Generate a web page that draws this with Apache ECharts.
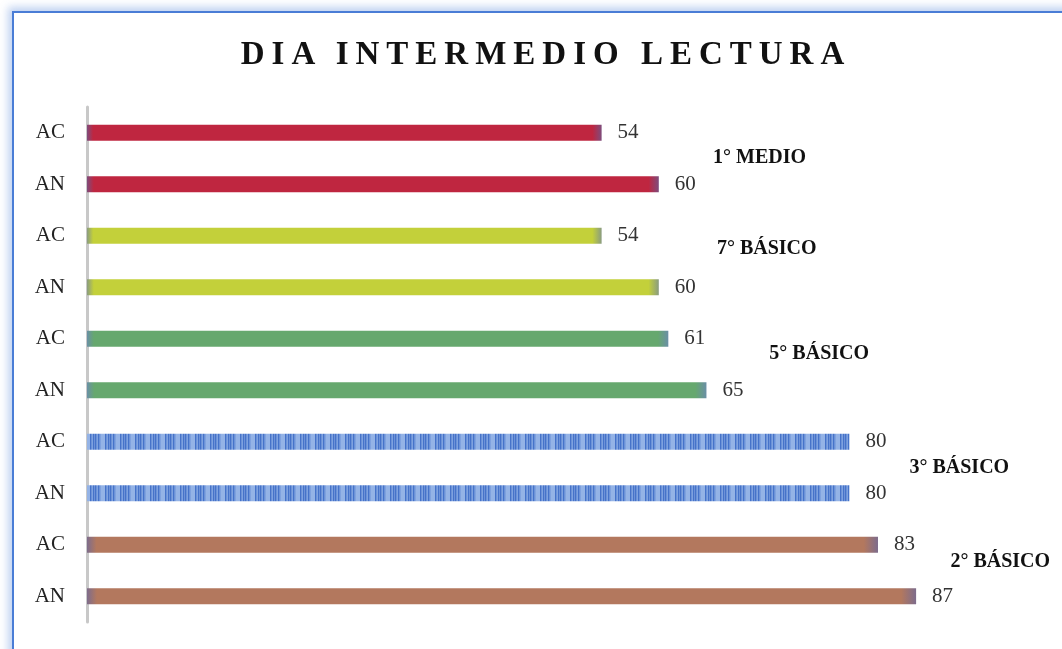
<!DOCTYPE html>
<html>
<head>
<meta charset="utf-8">
<script src="https://cdn.jsdelivr.net/npm/echarts@6/dist/echarts.min.js"></script>
<style>
  html, body { margin: 0; padding: 0; background: #fff; }
  #wrap { position: relative; width: 1062px; height: 649px; overflow: hidden; }
  #frame {
    position: absolute; left: 12px; top: 11px; width: 1100px; height: 700px;
    border-left: 2px solid #4a7dd6; border-top: 2px solid #4a7dd6;
    box-shadow: -4px -4px 8px rgba(74, 125, 214, 0.35);
  }
  #title {
    position: absolute; left: 4px; width: 1084px; top: 35px; text-align: center;
    font-family: 'Liberation Serif', serif; font-weight: bold; font-size: 33px;
    letter-spacing: 7px; color: #111;
  }
  #chart { position: absolute; left: 0; top: 0; width: 1062px; height: 649px; }
</style>
</head>
<body>
<div id="wrap">
  <div id="frame"></div>
  <div id="chart"></div>
  <div id="title">DIA INTERMEDIO LECTURA</div>
</div>
<script>
// categorias de arriba hacia abajo
const categories = ['AC', 'AN', 'AC', 'AN', 'AC', 'AN', 'AC', 'AN', 'AC', 'AN']
const values = [54, 60, 54, 60, 61, 65, 80, 80, 83, 87]
const groupOf = [0, 0, 1, 1, 2, 2, 3, 3, 4, 4]

const groupNames = ['1° MEDIO', '7° BÁSICO', '5° BÁSICO', '3° BÁSICO', '2° BÁSICO']
// posicion de las etiquetas de grupo en unidades de datos
const groupLabelX = [65.7, 66.1, 71.6, 86.3, 90.6]
const groupLabelY = [0.49, 2.26, 4.3, 6.51, 8.33]

function fade(main, edge) {
  return new echarts.graphic.LinearGradient(0, 0, 1, 0, [
    { offset: 0, color: edge },
    { offset: 0.012, color: main },
    { offset: 0.982, color: main },
    { offset: 1, color: edge },
  ])
}

function stripes() {
  const c = document.createElement('canvas')
  c.width = 15
  c.height = 16
  const ctx = c.getContext('2d')
  ctx.fillStyle = '#94b3e6'
  ctx.fillRect(0, 0, 15, 16)
  ctx.fillStyle = '#4673c9'
  ;[0, 3, 5, 8].forEach((x) => ctx.fillRect(x, 0, 1.5, 16))
  ctx.fillStyle = '#6a92d8'
  ;[1.5, 6.5, 9.5].forEach((x) => ctx.fillRect(x, 0, 1, 16))
  return { image: c, repeat: 'repeat' }
}

const groupColors = [
  fade('#bf2640', '#7e4c7c'),
  fade('#c3d03a', '#8a9c80'),
  fade('#66a86e', '#6a8fa6'),
  stripes(),
  fade('#b3785e', '#7d6c8c'),
]

const chartInstance = echarts.init(document.getElementById('chart'))

chartInstance.setOption({
  animation: false,
  grid: { left: 87, top: 107, width: 953, height: 515 },
  xAxis: { type: 'value', min: 0, max: 100, show: false },
  yAxis: [
    {
      type: 'category',
      inverse: true,
      data: categories,
      axisLine: { show: true, lineStyle: { color: '#c8c8c8', width: 3 } },
      axisTick: { show: false },
      axisLabel: {
        margin: 22,
        color: '#222',
        fontFamily: 'Liberation Serif',
        fontSize: 21,
      },
    },
    { type: 'value', inverse: true, min: -0.5, max: 9.5, show: false },
  ],
  series: [
    {
      type: 'bar',
      barWidth: 16,
      data: values.map((v, i) => ({
        value: v,
        itemStyle: { color: groupColors[groupOf[i]] },
      })),
      label: {
        show: true,
        position: 'right',
        distance: 16,
        color: '#333',
        fontFamily: 'Liberation Serif',
        fontSize: 21,
      },
    },
    {
      type: 'scatter',
      yAxisIndex: 1,
      symbolSize: 0,
      silent: true,
      itemStyle: { opacity: 1 },
      data: groupNames.map((n, i) => ({ name: n, value: [groupLabelX[i], groupLabelY[i]] })),
      label: {
        show: true,
        position: 'inside',
        align: 'left',
        verticalAlign: 'middle',
        formatter: '{b}',
        color: '#111',
        fontFamily: 'Liberation Serif',
        fontWeight: 'bold',
        fontSize: 20,
      },
    },
  ],
})
</script>
</body>
</html>
